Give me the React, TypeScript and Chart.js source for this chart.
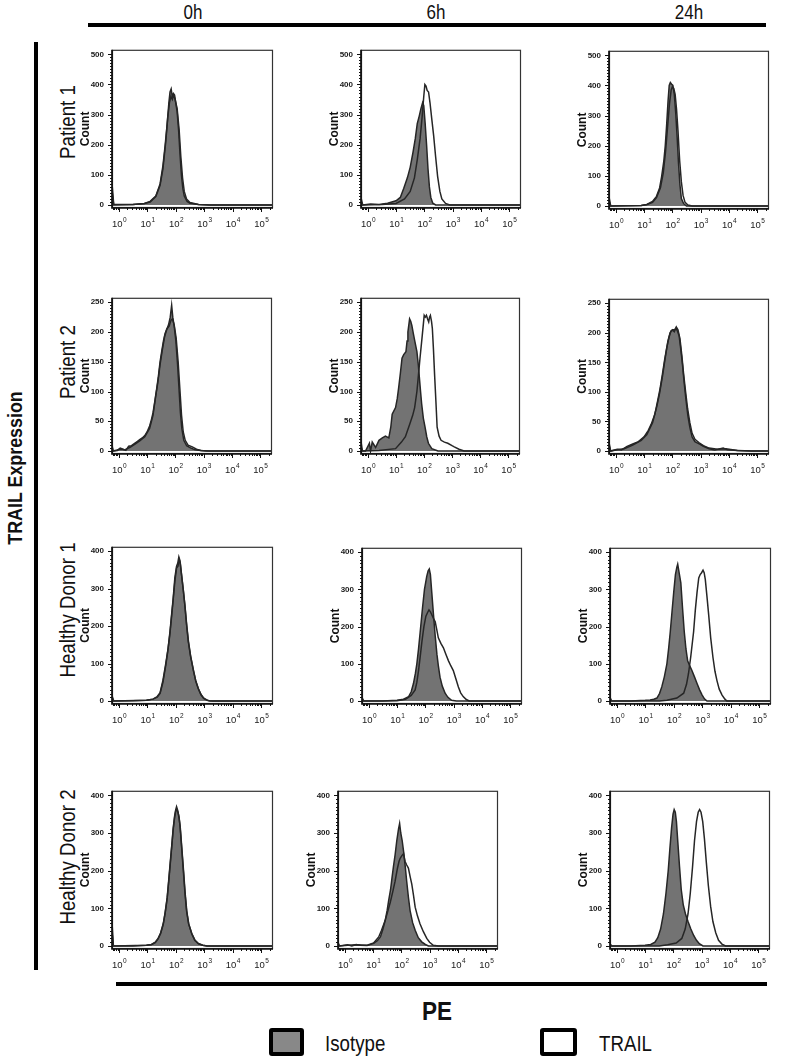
import React, { useEffect, useRef } from 'react';
import { Chart, registerables } from 'chart.js';

Chart.register(...registerables);

const FONT = '"Liberation Sans", Arial, Helvetica, sans-serif';

// ---------- labels ----------
const rowLabels = ['Patient 1', 'Patient 2', 'Healthy Donor 1', 'Healthy Donor 2'];
const colLabels = ['0h', '6h', '24h'];
const rowYMax = [500, 250, 400, 400];
const rowYStep = [100, 50, 100, 100];
const decadeTicks = [0, 1, 2, 3, 4, 5];
const legendLabels = ['Isotype', 'TRAIL'];
const xAxisTitle = 'PE';
const sideTitle = 'TRAIL Expression';
const yTitle = 'Count';

// ---------- data: [log10(PE), count] ----------
const patient1_0h_isotype: [number, number][] = [[-0.23,60],[-0.18,2],[0.5,2],[0.9,5],[1.1,12],[1.3,30],[1.45,70],[1.55,130],[1.63,200],[1.7,270],[1.76,340],[1.8,375],[1.84,385],[1.88,360],[1.92,370],[1.96,365],[2.0,340],[2.05,310],[2.1,250],[2.15,170],[2.2,100],[2.25,55],[2.3,30],[2.4,12],[2.5,6],[2.8,2],[3.2,0],[5.42,0]];
const patient1_0h_trail: [number, number][] = [[-0.23,40],[-0.18,0],[0.5,2],[0.9,5],[1.1,10],[1.3,28],[1.45,65],[1.55,120],[1.65,210],[1.72,290],[1.78,340],[1.83,360],[1.88,350],[1.93,365],[1.98,350],[2.05,320],[2.12,250],[2.18,160],[2.24,90],[2.3,45],[2.38,20],[2.5,8],[2.8,2],[3.2,0],[5.42,0]];

const patient1_6h_isotype: [number, number][] = [[-0.23,20],[-0.18,0],[0.1,3],[0.4,2],[0.7,6],[1.0,14],[1.15,25],[1.27,55],[1.4,90],[1.5,125],[1.6,175],[1.68,220],[1.75,270],[1.82,295],[1.88,320],[1.94,340],[1.98,330],[2.03,270],[2.08,200],[2.13,120],[2.18,60],[2.23,25],[2.3,6],[2.4,0],[5.42,0]];
const patient1_6h_trail: [number, number][] = [[-0.23,10],[-0.18,0],[0.5,2],[1.0,5],[1.3,20],[1.5,45],[1.65,90],[1.75,150],[1.85,220],[1.92,290],[1.98,360],[2.02,400],[2.06,395],[2.1,380],[2.15,375],[2.2,340],[2.27,280],[2.33,230],[2.4,160],[2.47,95],[2.55,45],[2.62,20],[2.75,5],[2.9,0],[5.42,0]];

const patient1_24h_isotype: [number, number][] = [[-0.23,25],[-0.18,0],[0.9,2],[1.1,5],[1.3,15],[1.44,32],[1.55,60],[1.62,97],[1.7,150],[1.75,200],[1.8,270],[1.85,350],[1.89,400],[1.93,410],[1.97,405],[2.02,400],[2.07,370],[2.12,310],[2.17,230],[2.22,140],[2.27,70],[2.32,25],[2.4,8],[2.5,0],[5.42,0]];
const patient1_24h_trail: [number, number][] = [[-0.23,15],[-0.18,0],[0.9,2],[1.1,5],[1.3,12],[1.44,28],[1.58,60],[1.68,110],[1.76,180],[1.83,260],[1.9,340],[1.96,385],[2.0,395],[2.05,390],[2.1,370],[2.15,320],[2.2,250],[2.26,150],[2.32,80],[2.38,35],[2.45,12],[2.55,3],[2.7,0],[5.42,0]];

const patient2_0h_isotype: [number, number][] = [[-0.23,8],[-0.2,0],[-0.05,1],[0.05,5],[0.15,3],[0.25,1],[0.35,8],[0.45,9],[0.56,13],[0.65,16],[0.74,19],[0.83,22],[0.92,26],[1.0,32],[1.09,42],[1.15,52],[1.21,64],[1.28,85],[1.35,108],[1.4,125],[1.46,150],[1.52,168],[1.58,185],[1.64,198],[1.7,205],[1.76,212],[1.82,225],[1.87,245],[1.91,225],[1.96,210],[2.02,185],[2.08,145],[2.13,105],[2.18,65],[2.23,38],[2.3,18],[2.4,9],[2.55,5],[2.7,2],[2.9,1],[3.1,0],[5.42,0]];
const patient2_0h_trail: [number, number][] = [[-0.23,5],[-0.2,0],[0.05,3],[0.2,2],[0.4,6],[0.56,11],[0.74,17],[0.92,24],[1.09,38],[1.21,60],[1.3,90],[1.38,115],[1.46,145],[1.54,170],[1.62,192],[1.7,205],[1.78,210],[1.85,220],[1.9,222],[1.96,212],[2.03,190],[2.1,150],[2.16,105],[2.22,60],[2.28,32],[2.35,18],[2.45,10],[2.6,7],[2.75,3],[2.9,1],[3.2,0],[5.42,0]];

const patient2_6h_isotype: [number, number][] = [[-0.23,13],[-0.19,0],[-0.08,0],[0.06,13],[0.1,0],[0.16,15],[0.28,6],[0.4,18],[0.52,22],[0.63,25],[0.75,22],[0.82,40],[0.87,62],[0.99,73],[1.05,88],[1.1,106],[1.16,130],[1.22,156],[1.28,162],[1.36,167],[1.4,185],[1.43,200],[1.49,222],[1.53,218],[1.57,211],[1.62,198],[1.67,186],[1.75,167],[1.8,145],[1.83,128],[1.88,100],[1.92,79],[1.98,55],[2.04,40],[2.1,24],[2.16,13],[2.28,4],[2.5,0],[5.42,0]];
const patient2_6h_trail: [number, number][] = [[-0.23,5],[-0.19,0],[0.4,1],[0.99,4],[1.2,15],[1.34,24],[1.5,46],[1.6,60],[1.67,73],[1.75,100],[1.8,125],[1.86,156],[1.94,194],[2.01,228],[2.05,225],[2.09,228],[2.13,222],[2.17,217],[2.2,225],[2.23,228],[2.27,218],[2.3,206],[2.34,170],[2.38,128],[2.43,80],[2.47,40],[2.54,25],[2.61,18],[2.73,15],[2.85,13],[3.0,9],[3.08,7],[3.25,3],[3.43,0],[5.42,0]];

const patient2_24h_isotype: [number, number][] = [[-0.23,12],[-0.18,0],[0.05,3],[0.2,2],[0.4,8],[0.6,12],[0.8,16],[1.0,24],[1.15,35],[1.25,45],[1.38,62],[1.48,85],[1.56,104],[1.65,130],[1.73,155],[1.8,174],[1.88,192],[1.95,203],[2.02,205],[2.08,205],[2.13,208],[2.18,203],[2.24,195],[2.3,172],[2.36,146],[2.42,115],[2.48,88],[2.55,60],[2.62,40],[2.7,24],[2.8,16],[2.95,12],[3.1,8],[3.3,4],[3.5,2],[3.8,5],[3.95,2],[4.3,1],[4.8,0],[5.42,0]];
const patient2_24h_trail: [number, number][] = [[-0.23,8],[-0.18,0],[0.05,2],[0.3,4],[0.6,10],[0.9,18],[1.1,28],[1.3,48],[1.45,75],[1.55,98],[1.65,126],[1.75,158],[1.84,185],[1.92,200],[2.0,205],[2.07,202],[2.14,210],[2.2,205],[2.27,190],[2.34,160],[2.4,130],[2.47,100],[2.54,72],[2.62,48],[2.7,30],[2.8,20],[2.95,14],[3.1,9],[3.3,5],[3.6,3],[3.9,4],[4.3,1],[4.8,0],[5.42,0]];

const donor1_0h_isotype: [number, number][] = [[-0.23,12],[-0.18,0],[0.5,1],[0.97,2],[1.2,5],[1.35,12],[1.45,22],[1.55,55],[1.65,100],[1.73,140],[1.8,187],[1.86,235],[1.91,274],[1.97,330],[2.03,360],[2.07,368],[2.11,385],[2.15,375],[2.2,340],[2.26,300],[2.32,257],[2.38,205],[2.44,160],[2.52,120],[2.62,82],[2.7,55],[2.79,34],[2.88,18],[2.97,8],[3.1,2],[3.2,0],[5.42,0]];
const donor1_0h_trail: [number, number][] = [[-0.23,8],[-0.18,0],[0.97,2],[1.2,5],[1.35,10],[1.45,20],[1.55,50],[1.65,95],[1.73,138],[1.8,182],[1.86,230],[1.91,270],[1.97,320],[2.03,355],[2.08,360],[2.12,378],[2.16,368],[2.21,335],[2.27,295],[2.33,250],[2.39,200],[2.45,158],[2.53,118],[2.63,80],[2.71,52],[2.8,32],[2.9,16],[3.0,6],[3.15,1],[3.3,0],[5.42,0]];

const donor1_6h_isotype: [number, number][] = [[-0.23,8],[-0.18,0],[0.5,0],[1.0,2],[1.23,5],[1.41,12],[1.5,25],[1.58,47],[1.65,75],[1.7,100],[1.76,140],[1.82,187],[1.9,250],[1.97,300],[2.05,335],[2.1,350],[2.14,355],[2.18,340],[2.23,290],[2.29,231],[2.35,175],[2.41,126],[2.46,95],[2.52,64],[2.6,40],[2.7,21],[2.8,10],[2.93,2],[3.1,0],[5.42,0]];
const donor1_6h_trail: [number, number][] = [[-0.23,5],[-0.18,0],[1.0,1],[1.3,5],[1.5,15],[1.64,30],[1.7,50],[1.76,82],[1.82,120],[1.88,160],[1.95,200],[2.02,228],[2.08,238],[2.13,245],[2.18,240],[2.24,230],[2.3,220],[2.35,213],[2.41,190],[2.46,170],[2.55,155],[2.64,143],[2.73,125],[2.82,108],[2.9,95],[2.99,82],[3.08,60],[3.17,38],[3.25,22],[3.34,12],[3.45,4],[3.55,0],[5.42,0]];

const donor1_24h_isotype: [number, number][] = [[-0.23,8],[-0.18,0],[0.5,0],[1.0,2],[1.17,3],[1.3,5],[1.41,8],[1.5,20],[1.58,38],[1.67,65],[1.76,100],[1.82,140],[1.88,187],[1.94,240],[2.0,292],[2.06,340],[2.11,360],[2.14,368],[2.19,345],[2.25,318],[2.31,250],[2.37,187],[2.43,140],[2.49,108],[2.56,95],[2.64,82],[2.73,65],[2.82,47],[2.91,30],[3.0,16],[3.08,6],[3.17,0],[5.42,0]];
const donor1_24h_trail: [number, number][] = [[-0.23,3],[-0.18,0],[1.5,0],[1.76,2],[2.11,8],[2.35,21],[2.45,45],[2.52,74],[2.6,120],[2.7,187],[2.76,245],[2.82,292],[2.88,331],[2.93,340],[2.98,345],[3.03,352],[3.07,345],[3.11,327],[3.17,280],[3.23,231],[3.3,170],[3.38,117],[3.45,80],[3.52,55],[3.6,32],[3.7,16],[3.8,5],[3.87,0],[5.42,0]];

const donor2_0h_isotype: [number, number][] = [[-0.23,50],[-0.19,0],[0.5,0],[0.97,2],[1.15,4],[1.28,10],[1.38,20],[1.47,35],[1.56,59],[1.63,90],[1.7,129],[1.76,180],[1.82,233],[1.87,275],[1.91,312],[1.96,345],[2.0,362],[2.03,370],[2.07,360],[2.11,345],[2.15,320],[2.21,260],[2.27,198],[2.32,145],[2.38,94],[2.45,60],[2.56,33],[2.67,15],[2.79,7],[2.95,2],[3.1,0],[5.42,0]];
const donor2_0h_trail: [number, number][] = [[-0.23,30],[-0.19,0],[0.97,2],[1.15,4],[1.28,9],[1.38,19],[1.47,33],[1.56,57],[1.63,88],[1.7,126],[1.76,176],[1.82,228],[1.87,272],[1.91,308],[1.96,340],[2.0,358],[2.04,362],[2.08,355],[2.12,340],[2.16,315],[2.22,255],[2.28,195],[2.33,142],[2.39,92],[2.46,58],[2.57,32],[2.68,15],[2.8,6],[2.95,2],[3.1,0],[5.42,0]];

const donor2_6h_isotype: [number, number][] = [[-0.23,8],[-0.19,0],[0.1,3],[0.25,0],[0.4,4],[0.55,2],[0.79,1],[1.02,7],[1.15,14],[1.26,24],[1.35,45],[1.43,68],[1.5,95],[1.55,120],[1.62,150],[1.67,181],[1.72,210],[1.78,242],[1.84,280],[1.9,310],[1.94,325],[1.98,300],[2.03,280],[2.08,251],[2.14,210],[2.19,172],[2.25,130],[2.31,94],[2.4,62],[2.49,42],[2.6,22],[2.72,11],[2.85,4],[2.96,0],[5.42,0]];
const donor2_6h_trail: [number, number][] = [[-0.23,5],[-0.19,0],[0.1,2],[0.4,3],[0.79,2],[1.02,8],[1.2,24],[1.3,42],[1.43,68],[1.52,92],[1.61,116],[1.7,145],[1.78,172],[1.86,205],[1.92,225],[1.96,233],[2.02,240],[2.08,245],[2.13,225],[2.19,215],[2.25,207],[2.31,185],[2.37,164],[2.43,135],[2.49,103],[2.57,80],[2.66,59],[2.78,38],[2.9,20],[3.0,10],[3.13,2],[3.31,0],[5.42,0]];

const donor2_24h_isotype: [number, number][] = [[-0.23,5],[-0.18,0],[0.5,0],[1.0,2],[1.2,4],[1.35,10],[1.45,22],[1.55,45],[1.65,85],[1.74,140],[1.82,200],[1.88,260],[1.94,315],[1.99,350],[2.03,362],[2.07,355],[2.11,330],[2.16,275],[2.22,210],[2.28,150],[2.35,110],[2.43,85],[2.52,65],[2.62,45],[2.72,28],[2.82,15],[2.92,6],[3.05,0],[5.42,0]];
const donor2_24h_trail: [number, number][] = [[-0.23,3],[-0.18,0],[1.5,0],[1.8,3],[2.1,8],[2.3,20],[2.42,45],[2.52,85],[2.6,140],[2.68,210],[2.75,280],[2.82,330],[2.88,355],[2.93,362],[2.98,355],[3.04,330],[3.1,285],[3.17,220],[3.24,160],[3.32,105],[3.4,65],[3.5,35],[3.6,15],[3.72,5],[3.85,0],[5.42,0]];

const isotypeSeries = [
  [patient1_0h_isotype, patient1_6h_isotype, patient1_24h_isotype],
  [patient2_0h_isotype, patient2_6h_isotype, patient2_24h_isotype],
  [donor1_0h_isotype, donor1_6h_isotype, donor1_24h_isotype],
  [donor2_0h_isotype, donor2_6h_isotype, donor2_24h_isotype],
];
const trailSeries = [
  [patient1_0h_trail, patient1_6h_trail, patient1_24h_trail],
  [patient2_0h_trail, patient2_6h_trail, patient2_24h_trail],
  [donor1_0h_trail, donor1_6h_trail, donor1_24h_trail],
  [donor2_0h_trail, donor2_6h_trail, donor2_24h_trail],
];

// ---------- layout (plot-frame rectangles: left, top, width, height) ----------
const PANEL_FRAMES: number[][][] = [
  [[112, 47, 161, 161], [361, 47, 160, 161], [609, 48, 160, 161]],
  [[112, 295, 160, 159], [361, 295, 159, 159], [609, 296, 160, 158]],
  [[112, 544, 161, 160], [362, 545, 160, 159], [610, 545, 161, 159]],
  [[112, 788, 161, 161], [338, 788, 160, 161], [610, 788, 160, 161]],
];
const PAD_L = 45, PAD_T = 10, PAD_R = 10, PAD_B = 20;
const X_MIN = -0.24, X_MAX = 5.42;
const ISO_FILL = '#737373';
const LINE_COLOR = '#262626';

function Panel({ frame, iso, trail, yMax, yStep }: { frame: number[]; iso: [number, number][]; trail: [number, number][]; yMax: number; yStep: number }) {
  const ref = useRef<HTMLCanvasElement>(null);
  const [fl, ft, fw, fh] = frame;
  const W = fw + PAD_L + PAD_R;
  const H = fh + PAD_T + PAD_B;

  useEffect(() => {
    const framePlugin = {
      id: 'flowFrame',
      afterDraw(chart: any) {
        const { ctx, chartArea: a, scales } = chart;
        const xs = scales.x, ys = scales.y;
        ctx.save();
        // frame
        ctx.strokeStyle = '#333';
        ctx.lineWidth = 1.2;
        ctx.strokeRect(a.left + 0.5, a.top + 0.5, a.right - a.left - 1, a.bottom - a.top - 1);
        ctx.strokeStyle = '#111';
        ctx.lineWidth = 1.7;
        ctx.beginPath();
        ctx.moveTo(a.left, a.top);
        ctx.lineTo(a.left, a.bottom);
        ctx.lineTo(a.right, a.bottom);
        ctx.stroke();
        // y ticks
        ctx.lineWidth = 1;
        ctx.beginPath();
        const minor = yStep / 10;
        for (let i = 0; i * minor <= yMax + 1e-6; i++) {
          const v = i * minor;
          const py = Math.round(ys.getPixelForValue(v)) + 0.5;
          const len = i % 10 === 0 ? 4 : 2;
          ctx.moveTo(a.left - len, py);
          ctx.lineTo(a.left, py);
        }
        // x ticks
        for (let d = -1; d <= 5; d++) {
          for (let k = 1; k <= 9; k++) {
            const v = d + Math.log10(k);
            if (v < X_MIN || v > X_MAX) continue;
            const px = Math.round(xs.getPixelForValue(v)) + 0.5;
            const len = k === 1 ? 4 : 2;
            ctx.moveTo(px, a.bottom);
            ctx.lineTo(px, a.bottom + len);
          }
        }
        ctx.stroke();
        // x labels 10^n
        ctx.fillStyle = '#1a1a1a';
        ctx.textAlign = 'left';
        ctx.textBaseline = 'alphabetic';
        decadeTicks.forEach((d) => {
          const px = xs.getPixelForValue(d);
          ctx.font = `9.5px ${FONT}`;
          const w1 = ctx.measureText('10').width;
          ctx.font = `6.5px ${FONT}`;
          const sup = String(d);
          const w2 = ctx.measureText(sup).width;
          const sx = px + 0.5 - (w1 + w2 + 0.5) / 2;
          ctx.font = `9.5px ${FONT}`;
          ctx.fillText('10', sx, a.bottom + 19);
          ctx.font = `6.5px ${FONT}`;
          ctx.fillText(sup, sx + w1 + 0.5, a.bottom + 14);
        });
        // y title
        ctx.translate(a.left - 26, (a.top + a.bottom) / 2);
        ctx.rotate(-Math.PI / 2);
        ctx.font = `bold 12px ${FONT}`;
        ctx.textAlign = 'center';
        ctx.textBaseline = 'middle';
        ctx.fillStyle = '#111';
        ctx.fillText(yTitle, 0, 0);
        ctx.restore();
      },
    };

    const chart = new Chart(ref.current!, {
      type: 'line',
      data: {
        datasets: [
          {
            label: legendLabels[1],
            data: trail.map(([x, y]) => ({ x, y })),
            borderColor: LINE_COLOR,
            borderWidth: 1.5,
            backgroundColor: 'rgba(0,0,0,0)',
            fill: false,
            pointRadius: 0,
            tension: 0,
          },
          {
            label: legendLabels[0],
            data: iso.map(([x, y]) => ({ x, y })),
            borderColor: LINE_COLOR,
            borderWidth: 1.5,
            backgroundColor: ISO_FILL,
            fill: 'origin',
            pointRadius: 0,
            tension: 0,
          },
        ],
      },
      options: {
        responsive: false,
        animation: false,
        events: [],
        layout: { padding: { left: 0, top: PAD_T, right: PAD_R, bottom: 0 } },
        plugins: { legend: { display: false }, tooltip: { enabled: false } },
        scales: {
          x: {
            type: 'linear',
            min: X_MIN,
            max: X_MAX,
            grid: { display: false, drawTicks: false },
            border: { display: false },
            ticks: { display: false },
            afterFit: (s: any) => { s.height = PAD_B; },
          },
          y: {
            type: 'linear',
            min: -0.02 * yMax,
            max: 1.03 * yMax,
            grid: { display: false, drawTicks: false },
            border: { display: false },
            ticks: {
              padding: 8,
              font: { family: FONT, size: 8, weight: 'bold' },
              color: '#1a1a1a',
            },
            afterBuildTicks: (s: any) => {
              const t = [];
              for (let v = 0; v <= yMax; v += yStep) t.push({ value: v });
              s.ticks = t;
            },
            afterFit: (s: any) => { s.width = PAD_L; },
          },
        },
      } as any,
      plugins: [framePlugin],
    });
    return () => chart.destroy();
  }, []);

  return (
    <canvas
      ref={ref}
      width={W}
      height={H}
      style={{ position: 'absolute', left: fl - PAD_L, top: ft - PAD_T, width: W, height: H }}
    />
  );
}

const textBase: React.CSSProperties = {
  position: 'absolute',
  fontFamily: FONT,
  whiteSpace: 'nowrap',
  lineHeight: 1,
  color: '#111',
};

function Centered({ x, y, text, size, bold, rotate, sx }: { x: number; y: number; text: string; size: number; bold?: boolean; rotate?: boolean; sx: number }) {
  return (
    <div
      style={{
        ...textBase,
        left: x,
        top: y,
        fontSize: size,
        fontWeight: bold ? 'bold' : 'normal',
        transform: `translate(-50%, -50%)${rotate ? ' rotate(-90deg)' : ''} scaleX(${sx})`,
      }}
    >
      {text}
    </div>
  );
}

export default function App() {
  const colCenters = [193, 436, 689];
  const rowCenters = [122, 362, 610, 857];
  return (
    <div style={{ position: 'absolute', left: 0, top: 0, width: 786, height: 1058, background: '#fff', overflow: 'hidden' }}>
      {colLabels.map((c, i) => (
        <Centered key={c} x={colCenters[i]} y={12} text={c} size={20} sx={0.85} />
      ))}
      <div style={{ position: 'absolute', left: 88, top: 23, width: 678, height: 4, background: '#000' }} />
      <div style={{ position: 'absolute', left: 34, top: 42, width: 4, height: 928, background: '#000' }} />
      <Centered x={14} y={468} text={sideTitle} size={21} bold rotate sx={0.85} />
      {rowLabels.map((r, i) => (
        <Centered key={r} x={68} y={rowCenters[i]} text={r} size={22} rotate sx={0.85} />
      ))}
      {PANEL_FRAMES.map((row, ri) =>
        row.map((f, ci) => (
          <Panel
            key={`${ri}-${ci}`}
            frame={f}
            iso={isotypeSeries[ri][ci]}
            trail={trailSeries[ri][ci]}
            yMax={rowYMax[ri]}
            yStep={rowYStep[ri]}
          />
        ))
      )}
      <div style={{ position: 'absolute', left: 116, top: 982, width: 651, height: 4, background: '#000' }} />
      <Centered x={437} y={1011} text={xAxisTitle} size={25} bold sx={0.9} />
      <div style={{ position: 'absolute', left: 269, top: 1028, width: 35, height: 28, boxSizing: 'border-box', border: '4px solid #000', borderRadius: 3, background: '#888' }} />
      <div style={{ ...textBase, left: 325, top: 1044, fontSize: 22, transformOrigin: 'left center', transform: 'translateY(-50%) scaleX(0.85)' }}>{legendLabels[0]}</div>
      <div style={{ position: 'absolute', left: 540, top: 1028, width: 37, height: 28, boxSizing: 'border-box', border: '4px solid #000', borderRadius: 3, background: '#fff' }} />
      <div style={{ ...textBase, left: 599, top: 1044, fontSize: 22, transformOrigin: 'left center', transform: 'translateY(-50%) scaleX(0.85)' }}>{legendLabels[1]}</div>
    </div>
  );
}
